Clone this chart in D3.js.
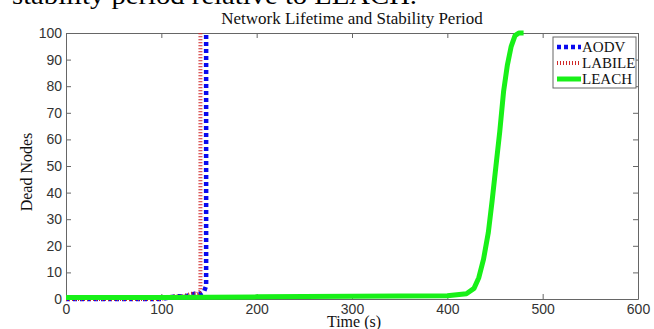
<!DOCTYPE html>
<html>
<head>
<meta charset="utf-8">
<script src="https://cdn.jsdelivr.net/npm/d3@7"></script>
<style>
  body { margin: 0; background: #fff; }
  .axis path, .axis line { stroke: #666; }
  .axis text { font-family: "Liberation Sans", Arial, sans-serif; font-size: 14px; fill: #333; }
  .serif { font-family: "Liberation Serif", "Times New Roman", serif; fill: #111; }
</style>
</head>
<body>
<div id="chart"></div>
<script>
// values
const xTicks = [0, 100, 200, 300, 400, 500, 600];
const yTicks = [0, 10, 20, 30, 40, 50, 60, 70, 80, 90, 100];

const aodvTime = [0, 50, 100, 115, 125, 135, 141, 145, 147, 147];
const aodvDead = [0, 0, 0, 1, 1, 2, 2, 3, 5, 100];

const labileTime = [0, 50, 100, 112, 122, 132, 138, 141, 141];
const labileDead = [0, 0, 0, 1, 1, 2, 2, 3, 100];

const leachTime = [0, 100, 200, 300, 400, 420, 428, 433, 438, 443, 447, 451, 455, 459, 463, 467, 471, 475, 480];
const leachDead = [0.6, 0.6, 0.8, 1, 1.2, 2, 4, 8, 15, 25, 37, 50, 63, 78, 88, 95, 99, 100, 100];

const seriesNames = ["AODV", "LABILE", "LEACH"];

const W = 654, H = 329;
const margin = {left: 66, right: 16, top: 33, bottom: 30};
const plotW = W - margin.left - margin.right;
const plotH = H - margin.top - margin.bottom;

const svg = d3.select("#chart").append("svg")
    .attr("width", W)
    .attr("height", H);

// clipped caption from the page above the figure
svg.append("text")
    .attr("class", "serif")
    .attr("x", 12)
    .attr("y", 4)
    .attr("textLength", 405)
    .attr("lengthAdjust", "spacingAndGlyphs")
    .style("font-size", "26px")
    .style("fill", "#000")
    .text("stability period relative to LEACH.");

const g = svg.append("g")
    .attr("transform", "translate(" + margin.left + "," + margin.top + ")");

const x = d3.scaleLinear().domain([0, 600]).range([0, plotW]);
const y = d3.scaleLinear().domain([0, 100]).range([plotH, 0]);

// axes, ticks pointing inward like matlab
g.append("g")
    .attr("class", "axis")
    .attr("transform", "translate(0," + plotH + ")")
    .call(d3.axisBottom(x).tickValues(xTicks).tickSizeInner(-5).tickSizeOuter(0).tickPadding(5));
g.append("g")
    .attr("class", "axis")
    .call(d3.axisLeft(y).tickValues(yTicks).tickSizeInner(-5).tickSizeOuter(0).tickPadding(4));
g.append("g")
    .attr("class", "axis")
    .call(d3.axisTop(x).tickValues(xTicks).tickSizeInner(-5).tickSizeOuter(0).tickFormat(""));
g.append("g")
    .attr("class", "axis")
    .attr("transform", "translate(" + plotW + ",0)")
    .call(d3.axisRight(y).tickValues(yTicks).tickSizeInner(-5).tickSizeOuter(0).tickFormat(""));

const line = d3.line()
    .x(d => x(d[0]))
    .y(d => y(d[1]));

const styles = {
    AODV:   {color: "#0a0aee", width: 4.5, dash: "4,3"},
    LABILE: {color: "#d02828", width: 4,   dash: "1,2"},
    LEACH:  {color: "#18f018", width: 5,   dash: null}
};

const series = [
    {name: "AODV", pts: d3.zip(aodvTime, aodvDead)},
    {name: "LABILE", pts: d3.zip(labileTime, labileDead)},
    {name: "LEACH", pts: d3.zip(leachTime, leachDead)}
];

g.selectAll("path.line")
    .data(series)
    .enter()
    .append("path")
    .attr("class", "line")
    .attr("d", d => line(d.pts))
    .attr("fill", "none")
    .attr("stroke", d => styles[d.name].color)
    .attr("stroke-width", d => styles[d.name].width)
    .attr("stroke-dasharray", d => styles[d.name].dash)
    .attr("stroke-linejoin", "round");

// titles
svg.append("text")
    .attr("class", "serif")
    .attr("x", margin.left + plotW / 2)
    .attr("y", 24)
    .attr("text-anchor", "middle")
    .style("font-size", "17px")
    .text("Network Lifetime and Stability Period");

svg.append("text")
    .attr("class", "serif")
    .attr("x", margin.left + plotW / 2 + 2)
    .attr("y", 327)
    .attr("text-anchor", "middle")
    .style("font-size", "16px")
    .text("Time (s)");

svg.append("text")
    .attr("class", "serif")
    .attr("transform", "translate(32," + (margin.top + plotH / 2 + 6) + ") rotate(-90)")
    .attr("text-anchor", "middle")
    .style("font-size", "16px")
    .text("Dead Nodes");

// legend box
const lg = svg.append("g").attr("transform", "translate(553,37)");
lg.append("rect")
    .attr("width", 83)
    .attr("height", 51)
    .attr("fill", "#fff")
    .attr("stroke", "#666");

const items = lg.selectAll("g.item")
    .data(seriesNames)
    .enter()
    .append("g")
    .attr("class", "item")
    .attr("transform", (d, i) => "translate(0," + (10 + i * 16) + ")");

items.append("line")
    .attr("x1", 4)
    .attr("x2", 28)
    .attr("stroke", d => styles[d].color)
    .attr("stroke-width", d => styles[d].width)
    .attr("stroke-dasharray", d => styles[d].dash);

items.append("text")
    .attr("class", "serif")
    .attr("x", 29)
    .attr("y", 5)
    .style("font-size", "15px")
    .text(d => d);
</script>
</body>
</html>
